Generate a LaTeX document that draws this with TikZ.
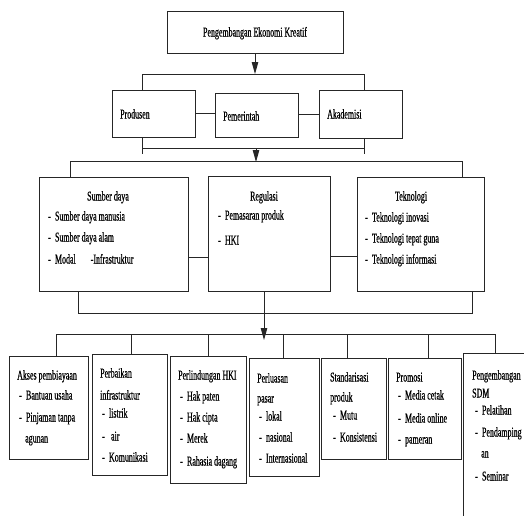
\documentclass[tikz,border=0pt]{standalone}
\usepackage{fontspec}
\setmainfont{Liberation Serif}[FakeStretch=0.587,FakeBold=0.6]
\usetikzlibrary{arrows.meta}
\newcommand\mydash{-\hspace{4.2pt}}
\begin{document}
\begin{tikzpicture}[x=1pt,y=-1pt,
  box/.style={draw=black!85, line width=0.9pt, inner sep=0pt, outer sep=0pt, fill=white},
  txt/.style={inner sep=0pt, text height=9pt, text depth=0pt, anchor=west, font=\fontsize{13.5}{15}\selectfont},
  ctxt/.style={txt, anchor=center},
  ln/.style={draw=black!85, line width=0.9pt},
  arr/.style={ln, -{Triangle[length=12pt,width=6.5pt]}}]
\useasboundingbox (0,0) rectangle (524,515);
\clip (0,0) rectangle (524,515);

% boxes
\node[box, minimum width=176pt, minimum height=42pt] (top) at (255,32) {};
\node[box, minimum width=83pt, minimum height=47pt] (prod) at (153.5,113.5) {};
\node[box, minimum width=83pt, minimum height=44pt] (pem) at (256.5,115) {};
\node[box, minimum width=83pt, minimum height=48pt] (akad) at (360.5,114) {};
\node[box, minimum width=149pt, minimum height=114pt] (sd) at (113.5,234) {};
\node[box, minimum width=122pt, minimum height=115pt] (reg) at (269,233.5) {};
\node[box, minimum width=127pt, minimum height=114pt] (tek) at (420.5,234) {};
\node[box, minimum width=79pt, minimum height=103pt] (b1) at (48.5,407.5) {};
\node[box, minimum width=75pt, minimum height=121pt] (b2) at (129.5,414.5) {};
\node[box, minimum width=76pt, minimum height=127pt] (b3) at (208,419.5) {};
\node[box, minimum width=70pt, minimum height=118pt] (b4) at (284,417) {};
\node[box, minimum width=65pt, minimum height=101pt] (b5) at (353.5,408.5) {};
\node[box, minimum width=73pt, minimum height=101pt] (b6) at (424.5,408.5) {};
\node[box, minimum width=77pt, minimum height=177pt] (b7) at (501.5,441.5) {};

% coordinates
\coordinate (j1) at (255,74);
\coordinate (bL) at (142,74);
\coordinate (bR) at (364,74);
\coordinate (cL) at (142,148);
\coordinate (cR) at (364,148);
\coordinate (cL2) at (142,154);
\coordinate (cR2) at (364,154);
\coordinate (d0) at (256,148);
\coordinate (d1) at (256,162);
\coordinate (eL) at (70,161);
\coordinate (eR) at (462,161);
\coordinate (fL) at (78,313);
\coordinate (fR) at (472,313);
\coordinate (g) at (264,340);
\coordinate (hL) at (56,334);
\coordinate (h2) at (131,334);
\coordinate (h3) at (208,334);
\coordinate (h4) at (283,334);
\coordinate (h5) at (347,334);
\coordinate (h6) at (428,334);
\coordinate (hR) at (495,334);

% connectors
\draw[arr] (top.south) -- (j1);
\draw[ln] (prod.north -| bL) -- (bL) -- (bR) -- (akad.north -| bR);
\draw[ln] (prod.east) -- (prod.east -| pem.west);
\draw[ln] (akad.west -| pem.east) -- (akad.west);
\draw[ln] (prod.south -| cL) -- (cL2);
\draw[ln] (akad.south -| cR) -- (cR2);
\draw[ln] (cL) -- (cR);
\draw[arr] (d0) -- (d1);
\draw[ln] (sd.north -| eL) -- (eL) -- (eR) -- (tek.north -| eR);
\path (sd.east) ++(0,23) coordinate (sr);
\draw[ln] (sr) -- (sr -| reg.west);
\path (reg.east) ++(0,23) coordinate (rt);
\draw[ln] (rt) -- (rt -| tek.west);
\draw[ln] (sd.south -| fL) -- (fL) -- (fR) -- (tek.south -| fR);
\draw[arr] (reg.south -| g) -- (g);
\draw[ln] (hL) -- (hR);
\draw[ln] (hL) -- (b1.north -| hL);
\draw[ln] (h2) -- (b2.north -| h2);
\draw[ln] (h3) -- (b3.north -| h3);
\draw[ln] (h4) -- (b4.north -| h4);
\draw[ln] (h5) -- (b5.north -| h5);
\draw[ln] (h6) -- (b6.north -| h6);
\draw[ln] (hR) -- (b7.north -| hR);

% texts
\node[ctxt] (ttop) at (255,32) {Pengembangan Ekonomi Kreatif};
\node[txt] (tprod) at (120,114) {Produsen};
\node[txt] (tpem) at (223,116) {Pemerintah};
\node[txt] (takad) at (327,114) {Akademisi};

\node[ctxt] (tsd) at (108,196) {Sumber daya};
\node[txt] (tsd1) at (48,216) {\mydash Sumber daya manusia};
\node[txt] (tsd2) at (48,237) {\mydash Sumber daya alam};
\node[txt] (tsd3) at (48,259) {\mydash Modal\hspace{15pt}-Infrastruktur};

\node[ctxt] (treg) at (264,196) {Regulasi};
\node[txt] (treg1) at (218,215) {\mydash Pemasaran produk};
\node[txt] (treg2) at (218,240) {\mydash HKI};

\node[ctxt] (ttek) at (411,196) {Teknologi};
\node[txt] (ttek1) at (365,217) {\mydash Teknologi inovasi};
\node[txt] (ttek2) at (365,238) {\mydash Teknologi tepat guna};
\node[txt] (ttek3) at (365,259) {\mydash Teknologi informasi};

\node[txt] (t1a) at (17,375) {Akses pembiayaan};
\node[txt] (t1b) at (19,395) {\mydash Bantuan usaha};
\node[txt] (t1c) at (19,417) {\mydash Pinjaman tanpa};
\node[txt] (t1d) at (25,438) {agunan};

\node[txt] (t2a) at (100,373) {Perbaikan};
\node[txt] (t2b) at (100,395) {infrastruktur};
\node[txt] (t2c) at (102,413) {\mydash listrik};
\node[txt] (t2d) at (102,436) {\mydash\hspace{2pt}air};
\node[txt] (t2e) at (102,457) {\mydash Komunikasi};

\node[txt] (t3a) at (178,375) {Perlindungan HKI};
\node[txt] (t3b) at (180,396) {\mydash Hak paten};
\node[txt] (t3c) at (180,417) {\mydash Hak cipta};
\node[txt] (t3d) at (180,438) {\mydash Merek};
\node[txt] (t3e) at (180,461) {\mydash Rahasia dagang};

\node[txt] (t4a) at (257,378) {Perluasan};
\node[txt] (t4b) at (257,398) {pasar};
\node[txt] (t4c) at (259,416) {\mydash lokal};
\node[txt] (t4d) at (259,437) {\mydash nasional};
\node[txt] (t4e) at (259,458) {\mydash Internasional};

\node[txt] (t5a) at (330,377) {Standarisasi};
\node[txt] (t5b) at (330,397) {produk};
\node[txt] (t5c) at (333,415) {\mydash Mutu};
\node[txt] (t5d) at (333,437) {\mydash Konsistensi};

\node[txt] (t6a) at (396,377) {Promosi};
\node[txt] (t6b) at (398,395) {\mydash Media cetak};
\node[txt] (t6c) at (398,418) {\mydash Media online};
\node[txt] (t6d) at (398,439) {\mydash pameran};

\node[txt] (t7a) at (472,375) {Pengembangan};
\node[txt] (t7b) at (472,393) {SDM};
\node[txt] (t7c) at (475,410) {\mydash Pelatihan};
\node[txt] (t7d) at (475,432) {\mydash Pendamping};
\node[txt] (t7e) at (481,453) {an};
\node[txt] (t7f) at (475,476) {\mydash Seminar};
\end{tikzpicture}
\end{document}
